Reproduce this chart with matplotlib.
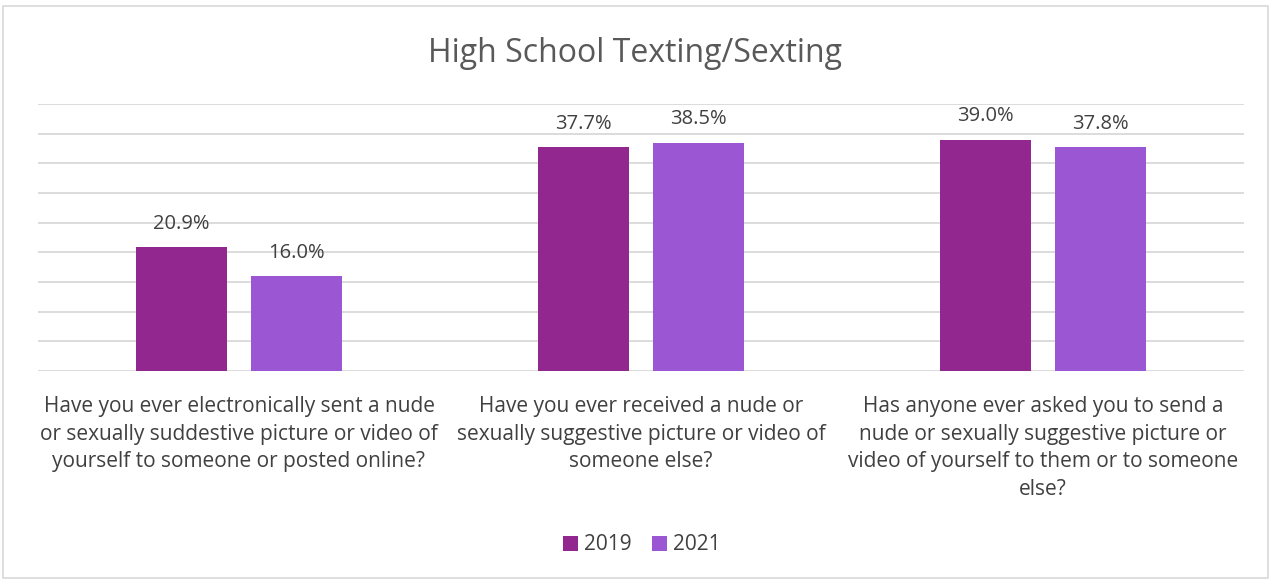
import matplotlib.pyplot as plt
import numpy as np
from matplotlib.patches import Rectangle

# ---------------------------------------------
categories = [
    'Have you ever electronically sent a nude\nor sexually suddestive picture or video of\nyourself to someone or posted online?',
    'Have you ever received a nude or\nsexually suggestive picture or video of\nsomeone else?',
    'Has anyone ever asked you to send a\nnude or sexually suggestive picture or\nvideo of yourself to them or to someone\nelse?',
]
years      = ['2019', '2021']
val_2019   = [20.9, 37.7, 39.0]
val_2021   = [16.0, 38.5, 37.8]
colors     = ['#92278F', '#9B57D3']
# ---------------------------------------------
plt.rcParams['font.family'] = ['Open Sans', 'DejaVu Sans']

fig = plt.figure(figsize=(12.71, 5.80), dpi=100)
ax  = fig.add_axes([38 / 1271, 1 - 371 / 580, 1206 / 1271, 267 / 580])

x     = np.arange(len(categories))
width = 0.224
shift = 0.143

for vals, off, col, lab in zip([val_2019, val_2021], [-shift, shift], colors, years):
    bars = ax.bar(x + off, vals, width=width, color=col, label=lab, zorder=3)
    for rect, val in zip(bars, vals):
        ax.text(rect.get_x() + rect.get_width() / 2, val + 3.9, f'{val:.1f}%',
                ha='center', va='center', fontsize=14.5, color='#404040')

ax.set_xlim(-0.5, 2.5)
ax.set_ylim(0, 45)
ax.set_yticks(np.arange(0, 46, 5))
ax.yaxis.grid(True, color='#d9d9d9', linewidth=1.3, zorder=0)
ax.tick_params(axis='both', length=0)
ax.set_yticklabels([])
ax.set_xticks(x)
ax.set_xticklabels(categories, fontsize=15, color='#404040', linespacing=1.42)
ax.tick_params(axis='x', pad=18)
for side in ['top', 'right', 'left', 'bottom']:
    ax.spines[side].set_visible(False)

fig.text(0.5, 1 - 53 / 580, 'High School Texting/Sexting', ha='center', va='center',
         fontsize=23, color='#595959')

fig.legend(loc='center', bbox_to_anchor=(0.505, 1 - 545 / 580), ncol=2, frameon=False,
           fontsize=15, labelcolor='#404040', handlelength=0.7, handleheight=0.7,
           handletextpad=0.3, columnspacing=1.0)

fig.patches.append(Rectangle((3 / 1271, 2 / 580), 1265 / 1271, 572 / 580,
                             transform=fig.transFigure, fill=False,
                             edgecolor='#d9d9d9', linewidth=1.2))

fig.savefig('out.png', dpi=100)
